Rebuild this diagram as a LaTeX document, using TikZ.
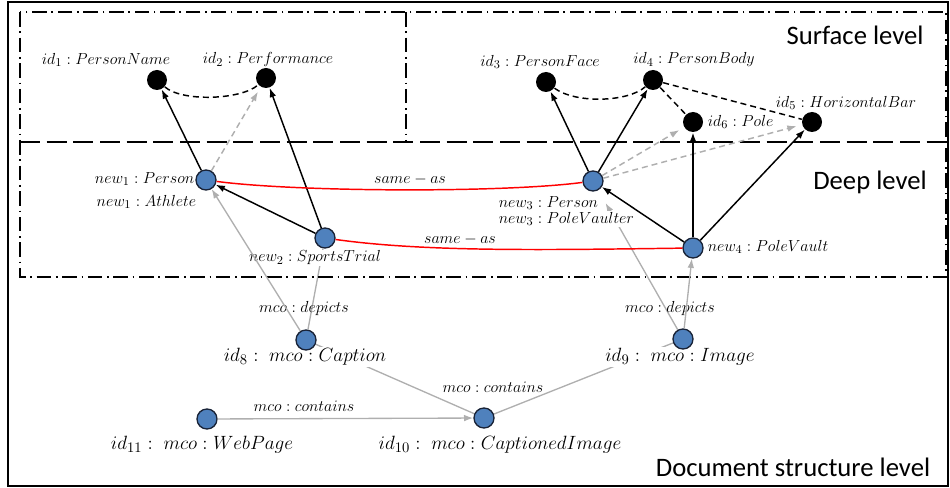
\documentclass[tikz,border=0pt]{standalone}
\usepackage{fontspec}
\newfontfamily\levelfont{Carlito}
\usetikzlibrary{arrows.meta,backgrounds}

\definecolor{objblue}{RGB}{79,129,189}
\definecolor{objline}{RGB}{25,35,55}
\definecolor{linkgray}{RGB}{175,175,175}

\tikzset{every picture/.style={line width=0.75pt}}
\tikzset{
  entity/.style={circle,fill=black,minimum size=15pt,inner sep=0pt},
  instance/.style={circle,draw=objline,fill=objblue,line width=1pt,minimum size=15pt,inner sep=0pt},
  smalllbl/.style={font=\fontsize{12.5}{15}\selectfont,inner sep=1pt},
  biglbl/.style={font=\fontsize{15}{18}\selectfont,inner sep=1pt},
  cover/.style={fill=white},
  leveltitle/.style={font=\levelfont\fontsize{20}{24}\selectfont},
  levelbox/.style={line width=1.3pt,dash pattern=on 11pt off 3.5pt on 1.2pt off 3.5pt},
  levelsplit/.style={line width=1.3pt,dash pattern=on 15pt off 5pt},
  rel/.style={-{Latex[length=7pt,width=5pt]},line width=1.1pt},
  hint/.style={-{Latex[length=7pt,width=5pt]},linkgray,dash pattern=on 4.5pt off 3pt,line width=1.1pt,shorten >=4pt},
  part/.style={dash pattern=on 4.5pt off 3pt,line width=1.1pt},
  sameas/.style={red,line width=1.1pt},
  link/.style={linkgray,line width=1pt},
  linkarr/.style={link,-{Latex[length=7pt,width=5pt]}},
}

\begin{document}
\begin{tikzpicture}[x=0.75pt,y=0.75pt,yscale=-1,xscale=1]
\useasboundingbox (0,0) rectangle (950,488);

% border and level boxes
\draw [line width=1pt] (8,2) rectangle (948,486);
\draw [levelbox] (20,12) rectangle (946,277);
\draw [levelbox] (406,12) -- (406,142);
\draw [levelsplit] (20,142) -- (946,142);

% level titles
\node [leveltitle] (tsurf) at (855,35) {Surface level};
\node [leveltitle] (tdeep) at (870,182) {Deep level};
\node [leveltitle] (tdoc) at (793,467) {Document structure level};

% Text Node
\node [smalllbl] (l1) at (106,60) {$id_1 : PersonName$};
\node [smalllbl] (l2) at (268,60) {$id_2 : Performance$};
\node [smalllbl] (l3) at (540,62) {$id_3 : PersonFace$};
\node [smalllbl] (l4) at (694,60) {$id_4 : PersonBody$};
\node [smalllbl] (l5) at (846,103) {$id_5 : HorizontalBar$};
\node [smalllbl,anchor=west] (l6) at (706,122) {$id_6 : Pole$};
\node [smalllbl,anchor=east] (t1a) at (196,179) {$new_1 : Person$};
\node [smalllbl,anchor=east] (t1b) at (198,202) {$new_1 : Athlete$};
\node [smalllbl,cover] (t2) at (315,258) {$new_2 : SportsTrial$};
\node [smalllbl,cover,anchor=west] (t3a) at (497,203) {$new_3 : Person$};
\node [smalllbl,cover,anchor=west] (t3b) at (497,219) {$new_3 : PoleVaulter$};
\node [smalllbl,anchor=west] (t4) at (706,247) {$new_4 : PoleVault$};
\node [biglbl,cover] (l8) at (305,357) {$id_8 :\; mco : Caption$};
\node [biglbl,cover] (l9) at (680,357) {$id_9 :\; mco : Image$};
\node [biglbl] (l10) at (500,445) {$id_{10} :\; mco : CaptionedImage$};
\node [biglbl] (l11) at (202,445) {$id_{11} :\; mco : WebPage$};

% edge texts
\node [smalllbl] (sa1) at (410,180) {$same - as$};
\node [smalllbl] (sa2) at (460,240) {$same - as$};
\node [smalllbl] (dp8) at (304,309) {$mco : depicts$};
\node [smalllbl] (dp9) at (670,309) {$mco : depicts$};
\node [smalllbl] (ct11) at (304,406) {$mco : contains$};
\node [smalllbl] (ct10) at (493,387) {$mco : contains$};

% surface entities
\node [entity] (id1) at (157,80) {};
\node [entity] (id2) at (266,78) {};
\node [entity] (id3) at (546,82) {};
\node [entity] (id4) at (653,80) {};
\node [entity] (id6) at (693,122) {};
\node [entity] (id5) at (812,122) {};

% deep instances
\node [instance] (new1) at (206,180) {};
\node [instance] (new2) at (325,238) {};
\node [instance] (new3) at (593,181) {};
\node [instance] (new4) at (693,248) {};

% document objects
\node [instance] (id8) at (306,340) {};
\node [instance] (id9) at (683,339) {};
\node [instance] (id10) at (484,418) {};
\node [instance] (id11) at (207,419) {};

% links running under the labels
\begin{scope}[on background layer]
\draw [link] (id8) -- (new2);
\draw [linkarr,shorten >=11pt] (id9) -- (new3);
\draw [link] (id10) -- (id8);
\draw [link] (id10) -- (id9);
\end{scope}

% deep to surface
\draw [rel] (new1) -- (id1);
\draw [hint] (new1) -- (id2);
\draw [rel] (new2) -- (id2);
\draw [rel] (new2) -- (new1);
\draw [rel] (new3) -- (id3);
\draw [rel] (new3) -- (id4);
\draw [hint] (new3) -- (id6);
\draw [hint] (new3) -- (id5);
\draw [rel] (new4) -- (new3);
\draw [rel] (new4) -- (id6);
\draw [rel] (new4) -- (id5);

% surface relations
\draw [part] (id1) .. controls +(25,22) and +(-25,22) .. (id2);
\draw [part] (id3) .. controls +(30,22) and +(-25,22) .. (id4);
\draw [part] (id4) -- (id6);
\draw [part] (id4) -- (id5);

% same-as
\draw [sameas] (new1) .. controls +(90,12) and +(-90,12) .. (new3);
\draw [sameas] (new2) .. controls +(100,14) and +(-150,2) .. (new4);

% document structure
\draw [linkarr] (id8) -- (new1);
\draw [linkarr] (id9) -- (new4);
\draw [linkarr] (id11) -- (id10);

\end{tikzpicture}
\end{document}
